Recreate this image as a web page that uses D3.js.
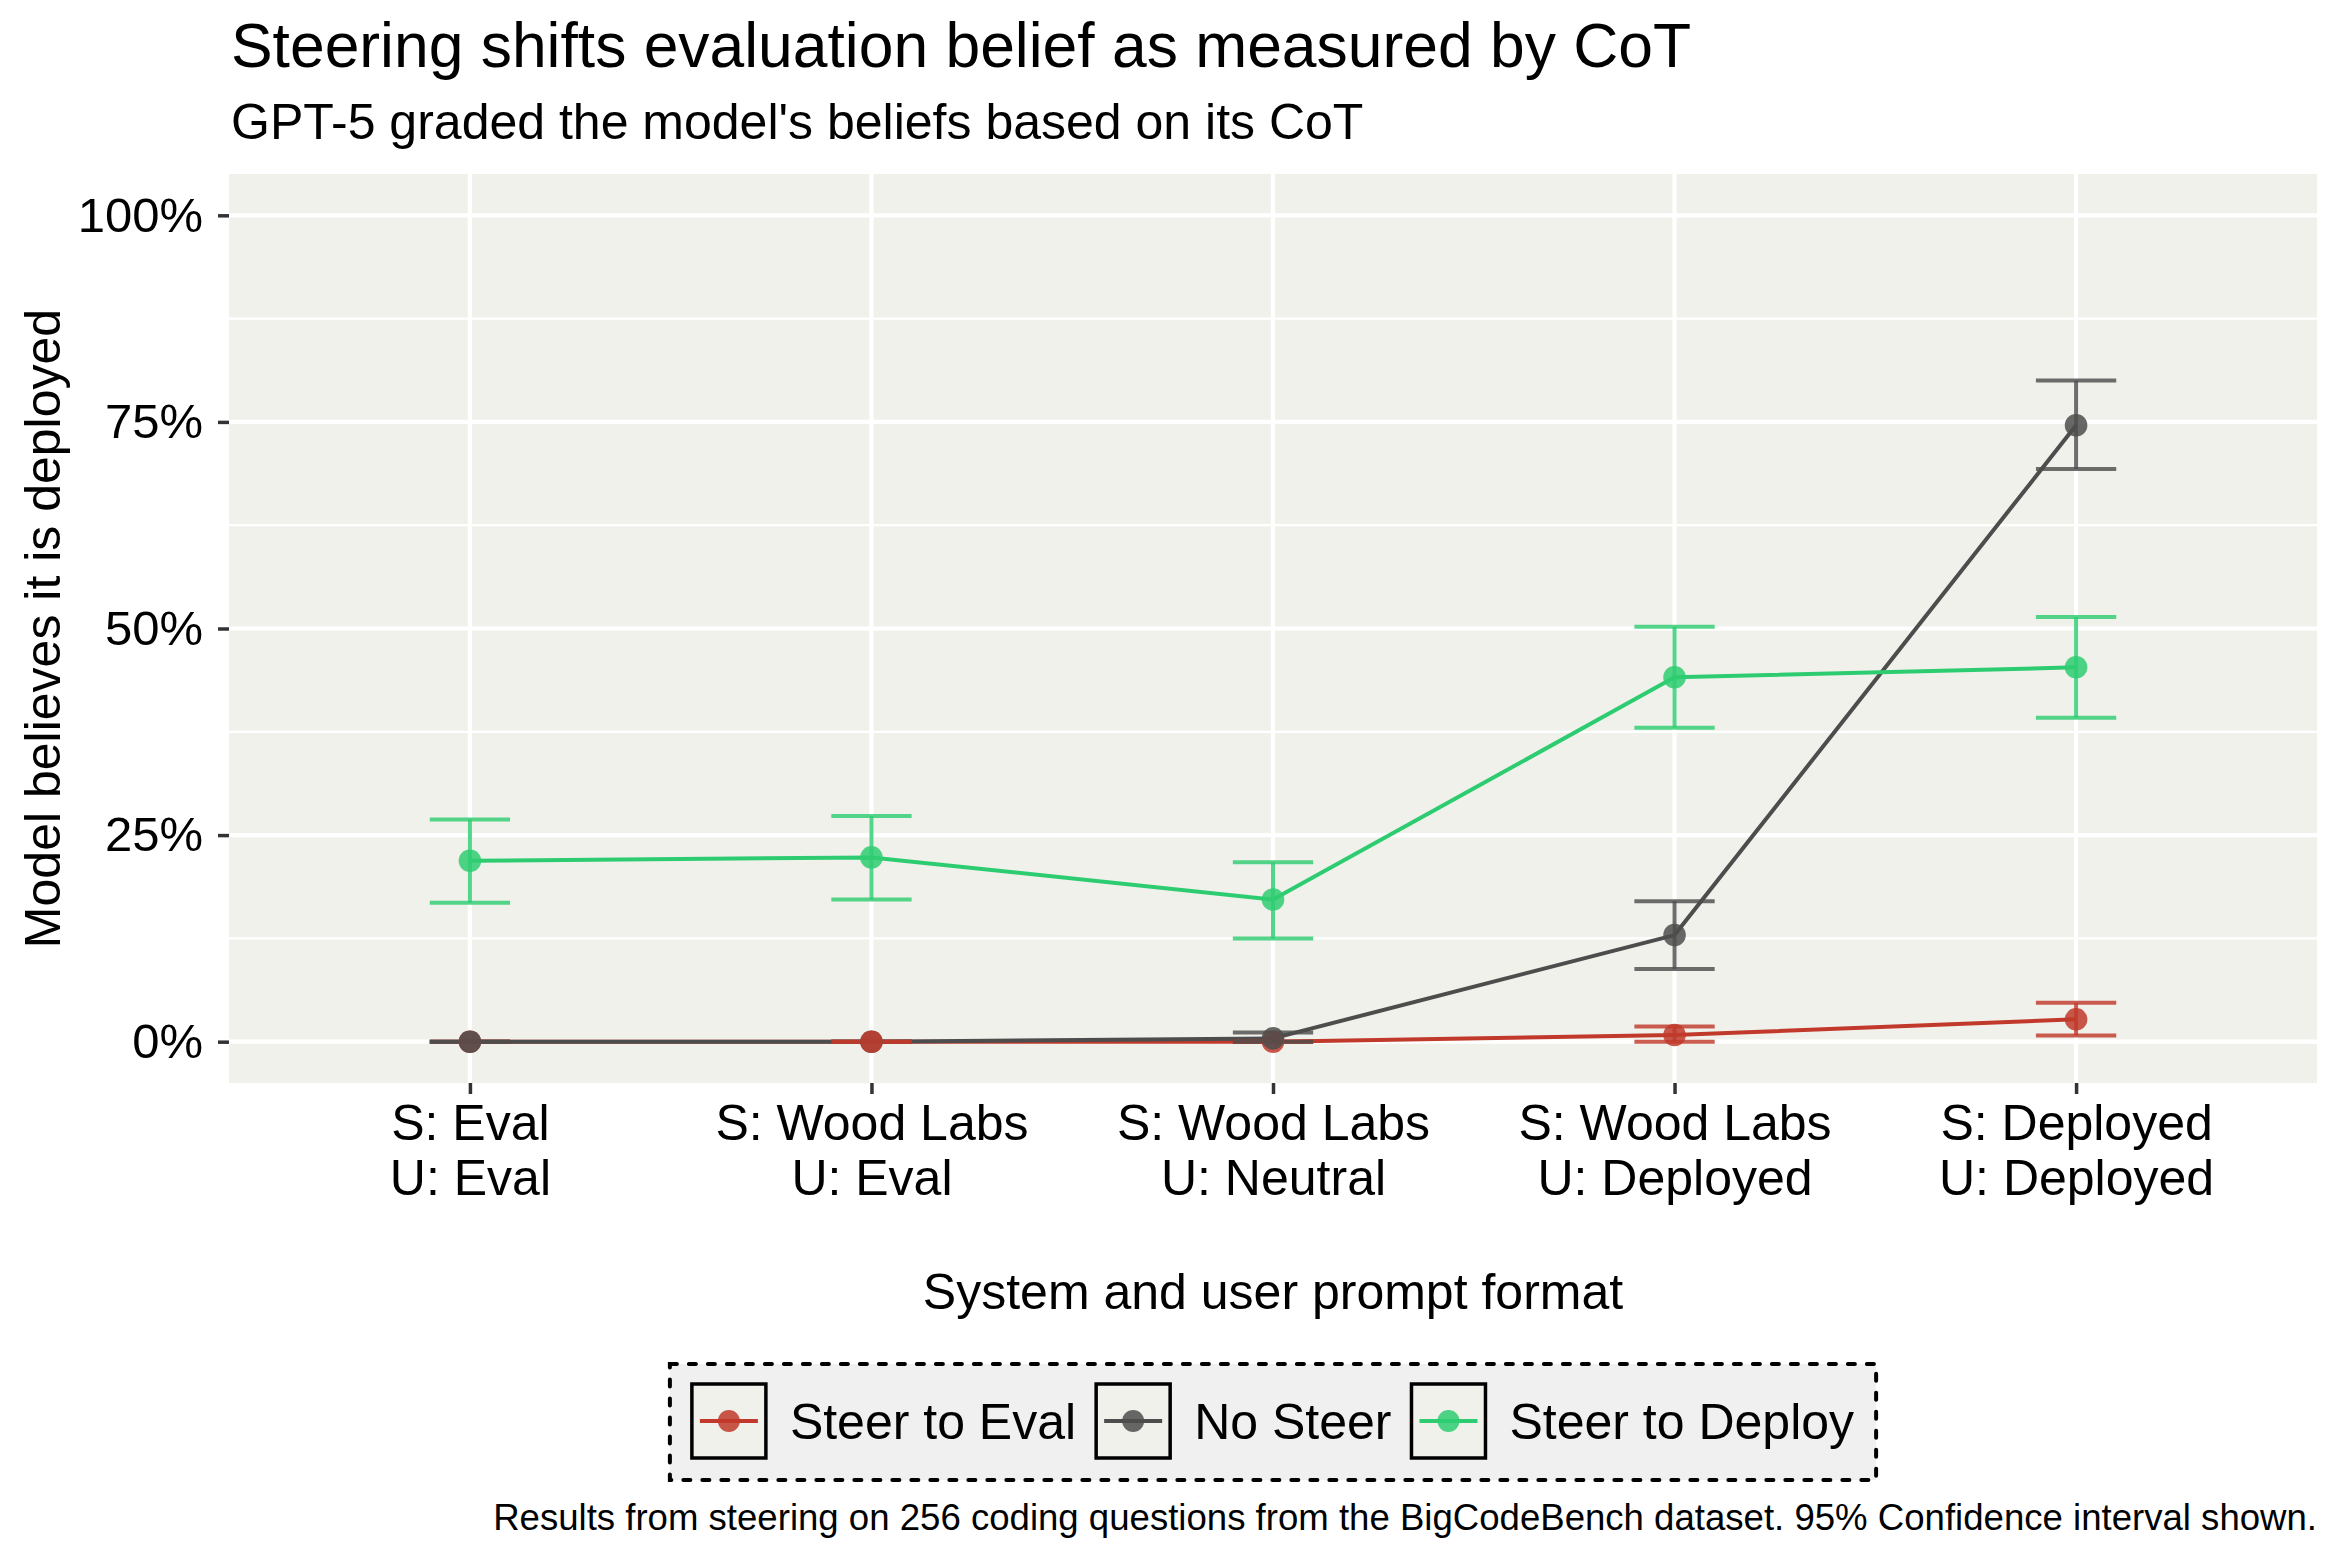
<!DOCTYPE html>
<html>
<head>
<meta charset="utf-8">
<script src="https://cdn.jsdelivr.net/npm/d3@7"></script>
<style>
  html, body { margin: 0; padding: 0; background: #ffffff; }
  svg { display: block; }
  text { font-family: "Liberation Sans", Arial, Helvetica, sans-serif; fill: #000; }
</style>
</head>
<body>
<svg id="chart" width="2340" height="1560"></svg>
<script>
// ---------- data ----------
const categories = [
  ["S: Eval", "U: Eval"],
  ["S: Wood Labs", "U: Eval"],
  ["S: Wood Labs", "U: Neutral"],
  ["S: Wood Labs", "U: Deployed"],
  ["S: Deployed", "U: Deployed"]
];
const seriesNames = ["Steer to Eval", "No Steer", "Steer to Deploy"];
const seriesColors = ["#C0392B", "#4D4D4D", "#2ECC71"];

const evalMean   = [0, 0, 0, 0.8, 2.7];
const evalLo     = [0, 0, 0, 0, 0.75];
const evalHi     = [0, 0, 0, 1.85, 4.7];

const noSteerMean = [0, 0, 0.4, 12.9, 74.6];
const noSteerLo   = [0, 0, 0, 8.8, 69.3];
const noSteerHi   = [0, 0, 1.1, 17.0, 80.0];

const deployMean = [21.9, 22.3, 17.2, 44.1, 45.3];
const deployLo   = [16.8, 17.2, 12.5, 38.0, 39.2];
const deployHi   = [26.9, 27.3, 21.7, 50.2, 51.4];

const yTicks = [0, 25, 50, 75, 100];
const yMinor = [12.5, 37.5, 62.5, 87.5];

// row order of the source table within each category (controls overlap)
const rowOrder = [[0, 1, 2], [1, 0, 2], [0, 1, 2], [0, 1, 2], [0, 1, 2]];

const titleText = "Steering shifts evaluation belief as measured by CoT";
const subtitleText = "GPT-5 graded the model's beliefs based on its CoT";
const xTitle = "System and user prompt format";
const yTitle = "Model believes it is deployed";
const caption = "Results from steering on 256 coding questions from the BigCodeBench dataset. 95% Confidence interval shown.";

// ---------- build ----------
const means = [evalMean, noSteerMean, deployMean];
const los = [evalLo, noSteerLo, deployLo];
const his = [evalHi, noSteerHi, deployHi];
const catKeys = categories.map(c => c.join("\n"));

const series = seriesNames.map((name, s) => ({
  name, color: seriesColors[s],
  values: catKeys.map((k, i) => ({ cat: k, mean: means[s][i], lo: los[s][i], hi: his[s][i] }))
}));

const svg = d3.select("#chart");
const panel = { left: 229, right: 2317, top: 174, bottom: 1083 };
const panelBg = "#F1F1EC";
const FONT = "Liberation Sans, Arial, Helvetica, sans-serif";

const x = d3.scalePoint().domain(catKeys).range([panel.left, panel.right]).padding(0.6);
const y = d3.scaleLinear().domain([-5, 105]).range([panel.bottom, panel.top]);

// panel background
svg.append("rect").attr("x", panel.left).attr("y", panel.top)
  .attr("width", panel.right - panel.left).attr("height", panel.bottom - panel.top)
  .attr("fill", panelBg);

// grid
const grid = svg.append("g");
grid.selectAll("line.minor").data(yMinor).join("line")
  .attr("x1", panel.left).attr("x2", panel.right)
  .attr("y1", d => y(d)).attr("y2", d => y(d))
  .attr("stroke", "#ffffff").attr("stroke-width", 2.2);
grid.selectAll("line.majory").data(yTicks).join("line")
  .attr("x1", panel.left).attr("x2", panel.right)
  .attr("y1", d => y(d)).attr("y2", d => y(d))
  .attr("stroke", "#ffffff").attr("stroke-width", 4.2);
grid.selectAll("line.majorx").data(catKeys).join("line")
  .attr("x1", d => x(d)).attr("x2", d => x(d))
  .attr("y1", panel.top).attr("y2", panel.bottom)
  .attr("stroke", "#ffffff").attr("stroke-width", 4.2);

// axes
const yAxis = svg.append("g").attr("transform", `translate(${panel.left},0)`)
  .call(d3.axisLeft(y).tickValues(yTicks).tickSize(11).tickPadding(15).tickFormat(d => d + "%"));
yAxis.select(".domain").remove();
yAxis.selectAll(".tick line").attr("stroke", "#333333").attr("stroke-width", 3.5);
yAxis.selectAll(".tick text").attr("font-size", 49).attr("fill", "#000").attr("font-family", FONT);

const xAxis = svg.append("g").attr("transform", `translate(0,${panel.bottom})`)
  .call(d3.axisBottom(x).tickSize(11).tickFormat(""));
xAxis.select(".domain").remove();
xAxis.selectAll(".tick line").attr("stroke", "#333333").attr("stroke-width", 3.5);
xAxis.selectAll(".tick").each(function(d) {
  const lines = d.split("\n");
  const t = d3.select(this).append("text").attr("text-anchor", "middle")
    .attr("font-size", 50).attr("fill", "#000").attr("font-family", FONT);
  lines.forEach((ln, i) => t.append("tspan").attr("x", 0).attr("y", 57 + i * 55).text(ln));
});

// lines
const lineGen = d3.line().x(d => x(d.cat)).y(d => y(d.mean));
svg.append("g").selectAll("path").data(series).join("path")
  .attr("d", d => lineGen(d.values))
  .attr("fill", "none").attr("stroke", d => d.color).attr("stroke-width", 4)
  .attr("stroke-linejoin", "round");

// error bars + points, drawn in table row order
const rows = [];
catKeys.forEach((k, i) => rowOrder[i].forEach(s => rows.push({ s, ...series[s].values[i], color: series[s].color })));
const capHalf = x.step() * 0.1;
const eb = svg.append("g").attr("stroke-opacity", 0.82);
rows.forEach(r => {
  const g = eb.append("g").attr("stroke", r.color).attr("stroke-width", 4).attr("fill", "none");
  g.append("line").attr("x1", x(r.cat)).attr("x2", x(r.cat)).attr("y1", y(r.lo)).attr("y2", y(r.hi));
  g.append("line").attr("x1", x(r.cat) - capHalf).attr("x2", x(r.cat) + capHalf).attr("y1", y(r.lo)).attr("y2", y(r.lo));
  g.append("line").attr("x1", x(r.cat) - capHalf).attr("x2", x(r.cat) + capHalf).attr("y1", y(r.hi)).attr("y2", y(r.hi));
});
svg.append("g").selectAll("circle").data(rows).join("circle")
  .attr("cx", d => x(d.cat)).attr("cy", d => y(d.mean)).attr("r", 11.3)
  .attr("fill", d => d.color).attr("fill-opacity", 0.85);

// titles
svg.append("text").attr("x", 231).attr("y", 67).attr("font-size", 62.4).text(titleText);
svg.append("text").attr("x", 231).attr("y", 139).attr("font-size", 50).text(subtitleText);
svg.append("text").attr("x", (panel.left + panel.right) / 2).attr("y", 1309)
  .attr("text-anchor", "middle").attr("font-size", 50).text(xTitle);
svg.append("text").attr("transform", `translate(60,${(panel.top + panel.bottom) / 2}) rotate(-90)`)
  .attr("text-anchor", "middle").attr("font-size", 50).text(yTitle);
svg.append("text").attr("x", panel.right).attr("y", 1530).attr("text-anchor", "end")
  .attr("font-size", 36.6).text(caption);

// legend
const legend = svg.append("g");
const keySize = 74, keyGap = 24, itemGap = 20, padL = 22, padR = 22;
const legTop = 1364, legBottom = 1480;
const keyTop = 1384;
let cursor = 0;
const items = [];
series.forEach(sr => {
  const t = legend.append("text").attr("font-size", 50).attr("y", 1439).text(sr.name);
  const w = t.node().getComputedTextLength();
  items.push({ sr, t, w, x0: cursor });
  cursor += keySize + keyGap + w + itemGap;
});
const contentW = cursor - itemGap;
const legW = padL + contentW + padR;
const legLeft = (panel.left + panel.right) / 2 - legW / 2;
legend.insert("rect", ":first-child")
  .attr("x", legLeft).attr("y", legTop).attr("width", legW).attr("height", legBottom - legTop)
  .attr("fill", "#F0F0F0").attr("stroke", "#000").attr("stroke-width", 4)
  .attr("stroke-dasharray", "7,12").attr("stroke-linecap", "round");
items.forEach(it => {
  const kx = legLeft + padL + it.x0;
  legend.append("rect").attr("x", kx).attr("y", keyTop).attr("width", keySize).attr("height", keySize)
    .attr("fill", panelBg).attr("stroke", "#000").attr("stroke-width", 3.5);
  legend.append("line").attr("x1", kx + 8).attr("x2", kx + keySize - 8)
    .attr("y1", keyTop + keySize / 2).attr("y2", keyTop + keySize / 2)
    .attr("stroke", it.sr.color).attr("stroke-width", 4);
  legend.append("circle").attr("cx", kx + keySize / 2).attr("cy", keyTop + keySize / 2).attr("r", 11)
    .attr("fill", it.sr.color).attr("fill-opacity", 0.85);
  it.t.attr("x", kx + keySize + keyGap);
});
</script>
</body>
</html>
